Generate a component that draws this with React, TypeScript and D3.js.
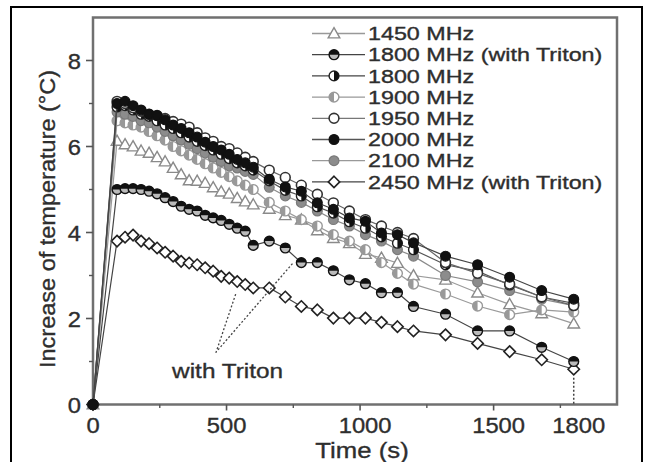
import React from "react";
import * as d3 from "d3";

const TIMES = [0, 90, 120, 150, 180, 210, 240, 270, 300, 330, 360, 390, 420, 450, 480, 510, 540, 570, 600,
  660, 720, 780, 840, 900, 960, 1020, 1080, 1140, 1200, 1320, 1440, 1560, 1680, 1800];

const S1450 = [0, 6.13, 6.05, 6.0, 5.9, 5.85, 5.75, 5.65, 5.5, 5.35, 5.21, 5.2, 5.15, 5.05, 4.95, 4.9, 4.8, 4.72, 4.65,
  4.55, 4.4, 4.3, 4.05, 3.87, 3.75, 3.5, 3.41, 3.29, 3.0, 2.9, 2.6, 2.33, 2.12, 1.88];
const S1800T = [0, 5.0, 5.02, 5.02, 5.0, 4.96, 4.9, 4.81, 4.72, 4.61, 4.54, 4.5, 4.4, 4.34, 4.28, 4.19, 4.1, 4.03, 3.7,
  3.8, 3.64, 3.3, 3.3, 3.11, 2.9, 2.81, 2.6, 2.6, 2.28, 2.1, 1.71, 1.71, 1.33, 1.0];
const S1800 = [0, 6.92, 6.95, 6.85, 6.75, 6.7, 6.6, 6.5, 6.42, 6.32, 6.22, 6.12, 6.02, 5.92, 5.82, 5.72, 5.62, 5.55, 5.45,
  5.2, 4.98, 4.85, 4.6, 4.45, 4.25, 4.1, 3.9, 3.75, 3.6, 3.25, 3.1, 2.78, 2.5, 2.35];
const S1900 = [0, 6.6, 6.55, 6.5, 6.45, 6.35, 6.25, 6.15, 6.0, 5.9, 5.8, 5.7, 5.6, 5.5, 5.4, 5.3, 5.2, 5.1, 5.0,
  4.7, 4.5, 4.3, 4.15, 3.95, 3.8, 3.6, 3.3, 3.05, 2.8, 2.57, 2.29, 2.09, 2.2, 2.15];
const S1950 = [0, 7.05, 7.0, 6.9, 6.82, 6.75, 6.72, 6.65, 6.58, 6.52, 6.45, 6.32, 6.2, 6.12, 6.0, 5.95, 5.85, 5.75, 5.65,
  5.45, 5.28, 5.1, 4.89, 4.69, 4.5, 4.3, 4.15, 4.0, 3.86, 3.3, 3.05, 2.8, 2.5, 2.3];
const S2000 = [0, 7.0, 7.05, 6.95, 6.85, 6.75, 6.72, 6.62, 6.5, 6.42, 6.32, 6.22, 6.1, 6.0, 5.92, 5.82, 5.7, 5.62, 5.52,
  5.24, 5.06, 4.96, 4.69, 4.54, 4.34, 4.26, 3.99, 3.95, 3.76, 3.45, 3.25, 2.96, 2.65, 2.45];
const S2100 = [0, 6.8, 6.75, 6.7, 6.6, 6.55, 6.45, 6.35, 6.25, 6.15, 6.05, 5.95, 5.85, 5.75, 5.65, 5.55, 5.5, 5.42, 5.35,
  5.05, 4.85, 4.7, 4.5, 4.3, 4.15, 3.95, 3.8, 3.6, 3.45, 3.0, 2.85, 2.65, 2.45, 2.3];
const S2450T = [0, 3.8, 3.89, 3.94, 3.8, 3.74, 3.64, 3.54, 3.45, 3.33, 3.29, 3.25, 3.18, 3.1, 2.98, 2.94, 2.86, 2.79, 2.71,
  2.71, 2.5, 2.28, 2.2, 2.01, 2.01, 2.01, 1.91, 1.81, 1.71, 1.62, 1.42, 1.23, 1.04, 0.82];

const LEGEND_LABELS = ["1450 MHz", "1800 MHz (with Triton)", "1800 MHz", "1900 MHz", "1950 MHz", "2000 MHz", "2100 MHz", "2450 MHz (with Triton)"];
const LEGEND_KINDS = ["tri", "halfTop", "halfRight", "halfLeftGray", "open", "filled", "gray", "diamond"];
const LEGEND_LINE = ["#999", "#444", "#444", "#999", "#777", "#555", "#999", "#444"];

// draw order (bottom to top)
const SERIES = [
  { values: S1450, kind: "tri", line: "#9a9a9a" },
  { values: S1900, kind: "halfLeftGray", line: "#9a9a9a" },
  { values: S2100, kind: "gray", line: "#8a8a8a" },
  { values: S1800, kind: "halfRight", line: "#555" },
  { values: S2450T, kind: "diamond", line: "#444" },
  { values: S1800T, kind: "halfTop", line: "#444" },
  { values: S1950, kind: "open", line: "#666" },
  { values: S2000, kind: "filled", line: "#444" },
];

const X_MAJOR = [0, 500, 1000, 1500];
const X_MINOR = [250, 750, 1250, 1750];
const X_LABELS = [0, 500, 1000, 1500, 1800];
const Y_MAJOR = [0, 2, 4, 6, 8];
const Y_MINOR = [1, 3, 5, 7];

const FONT = "'Liberation Sans', Arial, Helvetica, sans-serif";
const TXT = "#2e2e2e";

function Marker({ kind, x, y }: { kind: string; x: number; y: number }) {
  const r = 4.9;
  switch (kind) {
    case "tri": {
      const h = 5.8;
      return <path d={`M${x},${y - h} L${x + h},${y + h * 0.75} L${x - h},${y + h * 0.75} Z`} fill="#fff" stroke="#8a8a8a" strokeWidth={1.4} />;
    }
    case "diamond": {
      const h = 5.7;
      return <path d={`M${x},${y - h} L${x + h},${y} L${x},${y + h} L${x - h},${y} Z`} fill="#fff" stroke="#222" strokeWidth={1.6} />;
    }
    case "open":
      return <circle cx={x} cy={y} r={r} fill="#fff" stroke="#333" strokeWidth={1.6} />;
    case "filled":
      return <circle cx={x} cy={y} r={r} fill="#111" stroke="#111" strokeWidth={1.2} />;
    case "gray":
      return <circle cx={x} cy={y} r={r} fill="#8c8c8c" stroke="#7a7a7a" strokeWidth={1.2} />;
    case "halfTop":
      return (
        <g>
          <circle cx={x} cy={y} r={r} fill="#bbb" stroke="#111" strokeWidth={1.4} />
          <path d={`M${x - r},${y} A${r},${r} 0 0 1 ${x + r},${y} Z`} fill="#111" />
        </g>
      );
    case "halfRight":
      return (
        <g>
          <circle cx={x} cy={y} r={r} fill="#fff" stroke="#222" strokeWidth={1.4} />
          <path d={`M${x},${y - r} A${r},${r} 0 0 1 ${x},${y + r} Z`} fill="#111" />
        </g>
      );
    case "halfLeftGray":
      return (
        <g>
          <circle cx={x} cy={y} r={r} fill="#fff" stroke="#999" strokeWidth={1.4} />
          <path d={`M${x},${y - r} A${r},${r} 0 0 0 ${x},${y + r} Z`} fill="#999" />
        </g>
      );
    default:
      return null;
  }
}

function SText({ x, y, sx, size, anchor, children }: any) {
  return (
    <text transform={`translate(${x},${y}) scale(${sx},1)`} fontSize={size} fontFamily={FONT} fill={TXT}
      stroke={TXT} strokeWidth={0.35} textAnchor={anchor || "start"}>
      {children}
    </text>
  );
}

export default function App() {
  const W = 645, H = 462;
  const xS = d3.scaleLinear().domain([0, 1962]).range([93, 617]);
  const yS = d3.scaleLinear().domain([0, 9]).range([404.5, 17.5]);
  const line = d3.line<number>().x((_, i) => xS(TIMES[i])).y((v) => yS(v));

  const legendY0 = 33.5, legendDy = 21.2;

  return (
    <svg width={W} height={H} style={{ position: "absolute", left: 0, top: 0, background: "#fff" }}>
      <rect x={0} y={0} width={W} height={H} fill="#fff" />
      <rect x={11} y={7} width={631} height={480} fill="none" stroke="#000" strokeWidth={2} />

      {/* frame */}
      <rect x={xS(0)} y={yS(9)} width={xS(1962) - xS(0)} height={yS(0) - yS(9)} fill="none" stroke="#707070" strokeWidth={2.5} />

      {/* x ticks */}
      {X_MAJOR.map((t) => (
        <line key={"xM" + t} x1={xS(t)} x2={xS(t)} y1={yS(0)} y2={yS(0) + 6} stroke="#555" strokeWidth={1.6} />
      ))}
      {X_MINOR.map((t) => (
        <line key={"xm" + t} x1={xS(t)} x2={xS(t)} y1={yS(0)} y2={yS(0) + 3.5} stroke="#555" strokeWidth={1.4} />
      ))}
      {X_LABELS.map((t) => (
        <SText key={"xl" + t} x={xS(t) + (t >= 1000 ? 5 : 0)} y={433} sx={1.08} size={22} anchor="middle">{t}</SText>
      ))}

      {/* y ticks */}
      {Y_MAJOR.map((v) => (
        <line key={"yM" + v} x1={xS(0) - 7} x2={xS(0)} y1={yS(v)} y2={yS(v)} stroke="#555" strokeWidth={1.6} />
      ))}
      {Y_MINOR.map((v) => (
        <line key={"ym" + v} x1={xS(0) - 4} x2={xS(0)} y1={yS(v)} y2={yS(v)} stroke="#555" strokeWidth={1.4} />
      ))}
      {Y_MAJOR.map((v) => (
        <SText key={"yl" + v} x={81} y={yS(v) + 8} sx={1.08} size={22} anchor="end">{v}</SText>
      ))}

      {/* axis titles */}
      <SText x={362} y={458} sx={1.12} size={23} anchor="middle">Time (s)</SText>
      <text transform={`translate(55,219) rotate(-90)`} fontSize={22} fontFamily={FONT} fill={TXT} stroke={TXT} strokeWidth={0.35}
        textAnchor="middle" textLength={298} lengthAdjust="spacingAndGlyphs">Increase of temperature (°C)</text>

      {/* series */}
      {SERIES.map((s, si) => (
        <g key={"s" + si}>
          <path d={line(s.values) || ""} fill="none" stroke={s.line} strokeWidth={1.2} />
          {s.values.map((v, i) => (
            <Marker key={i} kind={s.kind} x={xS(TIMES[i])} y={yS(v)} />
          ))}
        </g>
      ))}

      {/* annotations */}
      <line x1={xS(460)} y1={yS(1.2)} x2={xS(536)} y2={yS(2.6)} stroke="#444" strokeWidth={1.3} strokeDasharray="2,2" />
      <line x1={xS(468)} y1={yS(1.27)} x2={xS(750)} y2={yS(3.3)} stroke="#444" strokeWidth={1.3} strokeDasharray="2,2" />
      <line x1={xS(1800)} y1={yS(0.62)} x2={xS(1800)} y2={yS(0)} stroke="#444" strokeWidth={1.5} strokeDasharray="2,2" />
      <SText x={xS(504)} y={378} sx={1.16} size={21} anchor="middle">with Triton</SText>

      {/* legend */}
      {LEGEND_LABELS.map((lab, i) => {
        const y = legendY0 + i * legendDy;
        return (
          <g key={"lg" + i}>
            <line x1={312} x2={365} y1={y} y2={y} stroke={LEGEND_LINE[i]} strokeWidth={1.3} />
            <Marker kind={LEGEND_KINDS[i]} x={334} y={y} />
            <SText x={368} y={y + 6.6} sx={1.26} size={18.5}>{lab}</SText>
          </g>
        );
      })}
    </svg>
  );
}
